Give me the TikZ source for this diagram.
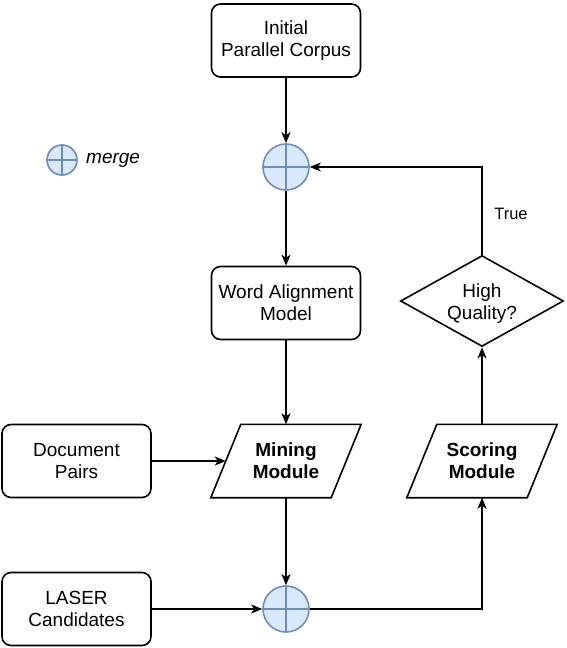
\documentclass[tikz,border=0pt]{standalone}
\usepackage{fontspec}
\setmainfont{Liberation Sans}
\usetikzlibrary{arrows.meta,shapes.geometric,calc}
\definecolor{mfill}{HTML}{DAE8FC}
\definecolor{mline}{HTML}{6C8EBF}
\begin{document}
\begin{tikzpicture}[x=1pt,y=-1pt,
  every node/.style={font=\fontsize{19}{22}\selectfont, align=center, inner sep=0pt},
  rbox/.style={draw, line width=1.6pt, rounded corners=9pt, minimum width=149pt, minimum height=73pt},
  parabox/.style={minimum width=120pt, minimum height=73pt},
  mergenode/.style={circle, draw=mline, fill=mfill, line width=1.6pt, minimum size=46pt},
  arr/.style={line width=1.6pt, -{Stealth[length=11pt,width=9pt,inset=3pt]}},
  ln/.style={line width=1.6pt}
]
\useasboundingbox (0,0) rectangle (566,648);
% nodes
\node[rbox] (init) at (286,40.5) {Initial\\Parallel Corpus};
\node[mergenode] (m1) at (286,167) {};
\node[rbox] (wam) at (286,303) {Word Alignment\\Model};
\node[parabox] (mining) at (286,461) {\textbf{Mining}\\\textbf{Module}};
\node[rbox] (doc) at (76.5,461) {Document\\Pairs};
\node[rbox] (laser) at (76.5,609) {LASER\\Candidates};
\node[mergenode] (m2) at (286,609) {};
\node[parabox] (scoring) at (482,461) {\textbf{Scoring}\\\textbf{Module}};
\node[diamond, draw, line width=1.6pt, aspect=1.79, minimum width=163pt, minimum height=91pt] (hq) at (482,301) {};
\node (hqt) at (482,304) {High\\Quality?};
\node (true) at (511,214) {\fontsize{16.5}{20}\selectfont True};
% legend
\node[mergenode, minimum size=30pt] (lm) at (62,160) {};
\node[anchor=west] (lt) at (86,160) {\itshape merge};
% parallelograms
\foreach \n in {mining,scoring}{
  \draw[ln] ($(\n.south west)+(-15,0)$) -- ($(\n.north west)+(15,0)$) -- ($(\n.north east)+(15,0)$) -- ($(\n.south east)+(-15,0)$) -- cycle;
}
% merge crosses
\foreach \n in {m1,m2,lm}{
  \draw[mline, line width=1.6pt] (\n.north) -- (\n.south) (\n.west) -- (\n.east);
}
% connectors
\draw[arr] (init) -- (m1);
\draw[arr] (m1) -- (wam);
\draw[arr] (wam) -- (mining.north);
\draw[arr] (doc.east) -- (mining.west);
\draw[arr] (mining.south) -- (m2);
\draw[arr] (laser.east) -- (m2.west);
\draw[arr] (m2.east) -| (scoring.south);
\draw[arr] (scoring.north) -- (hq.south);
\draw[arr] (hq.north) |- (m1.east);
\end{tikzpicture}
\end{document}
